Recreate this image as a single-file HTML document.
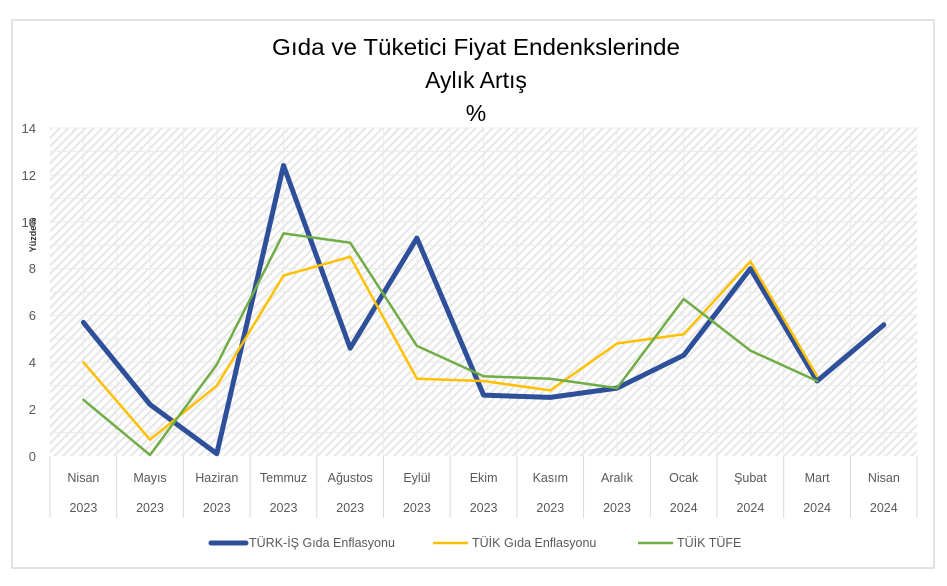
<!DOCTYPE html>
<html><head><meta charset="utf-8"><style>body{margin:0;background:#fff}svg{display:block}text{font-family:"Liberation Sans",sans-serif}</style></head><body>
<svg width="947" height="586" viewBox="0 0 947 586">
<defs>
<pattern id="h" width="6" height="6" patternUnits="userSpaceOnUse" patternTransform="rotate(45)">
<rect width="6" height="6" fill="#fff"/><rect width="2" height="6" fill="#e6e6e6"/></pattern>
</defs>
<rect x="12" y="20" width="922" height="548" fill="#fff" stroke="#d9d9d9" stroke-width="1.5"/>
<text x="476" y="55" font-size="23" text-anchor="middle" fill="#000" textLength="408" lengthAdjust="spacingAndGlyphs">Gıda ve Tüketici Fiyat Endenkslerinde</text>
<text x="476" y="88" font-size="23" text-anchor="middle" fill="#000">Aylık Artış</text>
<text x="476" y="121" font-size="23" text-anchor="middle" fill="#000">%</text>
<rect x="50" y="128" width="867" height="328" fill="url(#h)"/>
<g stroke="#ececec" stroke-width="1">
<path d="M50 128H917M50 151.4H917M50 174.9H917M50 198.3H917M50 221.7H917M50 245.2H917M50 268.6H917M50 292H917M50 315.4H917M50 338.9H917M50 362.3H917M50 385.7H917M50 409.1H917M50 432.6H917"/>
<path d="M83.4 128V456M116.7 128V456M150 128V456M183.4 128V456M216.8 128V456M250.1 128V456M283.5 128V456M316.8 128V456M350.2 128V456M383.5 128V456M416.9 128V456M450.2 128V456M483.6 128V456M516.9 128V456M550.3 128V456M583.6 128V456M617 128V456M650.3 128V456M683.7 128V456M717 128V456M750.4 128V456M783.7 128V456M817.1 128V456M850.4 128V456M883.8 128V456"/>
</g>
<g stroke="#d9d9d9" stroke-width="1">
<path d="M50 456V518M116.7 456V518M183.4 456V518M250.1 456V518M316.8 456V518M383.5 456V518M450.2 456V518M516.9 456V518M583.6 456V518M650.3 456V518M717 456V518M783.7 456V518M850.4 456V518M917 456V518"/>
</g>
<g font-size="13" fill="#595959" text-anchor="end">
<text x="36" y="133">14</text><text x="36" y="180">12</text><text x="36" y="227">10</text><text x="36" y="273">8</text><text x="36" y="320">6</text><text x="36" y="367">4</text><text x="36" y="414">2</text><text x="36" y="461">0</text>
</g>
<text transform="translate(36,235) rotate(-90)" font-size="9" font-weight="bold" fill="#333" text-anchor="middle">Yüzde%</text>
<g font-size="12.5" fill="#595959" text-anchor="middle">
<text x="83.4" y="482">Nisan</text><text x="150" y="482">Mayıs</text><text x="216.8" y="482">Haziran</text><text x="283.5" y="482">Temmuz</text><text x="350.2" y="482">Ağustos</text><text x="416.9" y="482">Eylül</text><text x="483.6" y="482">Ekim</text><text x="550.3" y="482">Kasım</text><text x="617" y="482">Aralık</text><text x="683.7" y="482">Ocak</text><text x="750.4" y="482">Şubat</text><text x="817.1" y="482">Mart</text><text x="883.8" y="482">Nisan</text>
<text x="83.4" y="512">2023</text><text x="150" y="512">2023</text><text x="216.8" y="512">2023</text><text x="283.5" y="512">2023</text><text x="350.2" y="512">2023</text><text x="416.9" y="512">2023</text><text x="483.6" y="512">2023</text><text x="550.3" y="512">2023</text><text x="617" y="512">2023</text><text x="683.7" y="512">2024</text><text x="750.4" y="512">2024</text><text x="817.1" y="512">2024</text><text x="883.8" y="512">2024</text>
</g>
<g fill="none" stroke-linejoin="round" stroke-linecap="round">
<polyline stroke="#2e4f99" stroke-width="5" points="83.4,322.4 150,404.5 216.8,453.7 283.5,165.5 350.2,348.2 416.9,238.1 483.6,395.1 550.3,397.4 617,388.1 683.7,355.3 750.4,268.6 817.1,381 883.8,324.8"/>
<polyline stroke="#ffc000" stroke-width="2.5" points="83.4,362.3 150,439.6 216.8,385.7 283.5,275.6 350.2,256.8 416.9,378.7 483.6,381 550.3,390.4 617,343.5 683.7,334.2 750.4,261.5 817.1,376.3"/>
<polyline stroke="#70ad47" stroke-width="2.5" points="83.4,399.8 150,455 216.8,364.6 283.5,233.4 350.2,242.8 416.9,345.9 483.6,376.3 550.3,378.7 617,388.1 683.7,299 750.4,350.6 817.1,381"/>
</g>
<g font-size="12.5" fill="#595959">
<line x1="211" y1="543" x2="246" y2="543" stroke="#2e4f99" stroke-width="5" stroke-linecap="round"/><text x="249" y="547">TÜRK-İŞ Gıda Enflasyonu</text>
<line x1="433" y1="543" x2="468" y2="543" stroke="#ffc000" stroke-width="2.5"/><text x="472" y="547">TÜİK Gıda Enflasyonu</text>
<line x1="638" y1="543" x2="673" y2="543" stroke="#70ad47" stroke-width="2.5"/><text x="677" y="547">TÜİK TÜFE</text>
</g>
</svg>
</body></html>
